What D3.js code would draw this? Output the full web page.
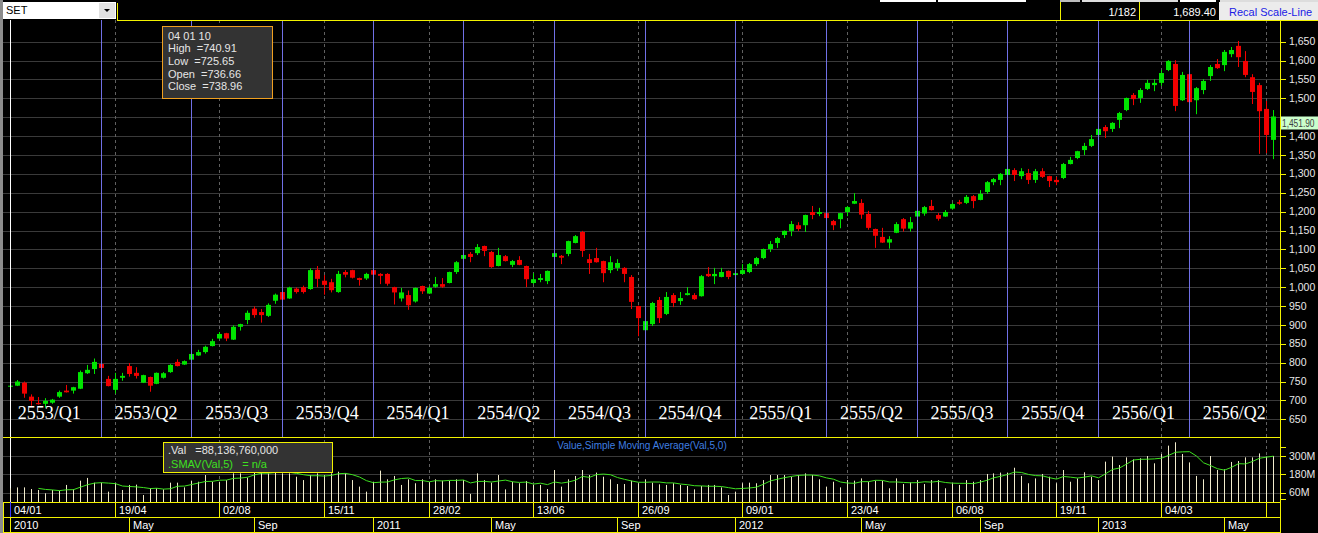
<!DOCTYPE html>
<html><head><meta charset="utf-8">
<script src="https://cdn.jsdelivr.net/npm/d3@7"></script>
<style>
html,body{margin:0;padding:0;background:#000;overflow:hidden}
svg{display:block}
text{font-family:"Liberation Sans",Arial,sans-serif;white-space:pre}
</style>
</head><body>
<svg id="c" width="1318" height="533"></svg>
<script>
// ---------- DATA (weekly SET index, 2010-01-04 .. 2013-06-24) ----------
const openP  = [736.66,739,747,710,693,691,694,710,726,726,731,772,783,796.5,757,728,760,791,773,747,762,744,760,775,802,795,808,819,828,844,864,878,861,895,913,943,934,924,964,987,970,996,1000,995,1046,1017,1013,987,1040,1045,1024,1023,1045,1035,1035,1000,970,979,962,1003,983,1001,1008,1011,1040,1075,1088,1090,1109,1093,1056,1082,1059,1072,1056,1011,1019,1016,1080,1083,1088,1117,1146,1074,1077,1069,1045,1051,1051,1027,950,886,902,966,929,979,963,979,979,976,1035,1029,1027,1043,1032,1035,1040,1061,1077,1101,1117,1138,1149,1164,1164,1199,1194,1196,1175,1180,1199,1221,1223,1194,1154,1133,1118,1144,1180,1155,1187,1195,1215,1191,1187,1208,1225,1223,1241,1231,1252,1278,1284,1297,1310,1294,1302,1284,1307,1294,1284,1289,1326,1342,1363,1374,1403,1424,1419,1443,1469,1509,1501,1525,1535,1541,1575,1591,1495,1564,1495,1522,1559,1591,1588,1617,1639,1599,1556,1535,1472,1390];
const highP  = [740.91,754,750,716,709,706,704,726,741,736,779,794,811,797,765,773,773,799,788,768,763,774,775,796,809,806,825,834,845,863,881,879,899,903,938,949,942,957,983,988,1001,999,1004,1050,1056,1032,1022,1043,1045,1046,1025,1038,1046,1037,1037,1001,998,991,999,1004,1003,1027,1024,1041,1069,1086,1093,1114,1110,1096,1104,1085,1072,1082,1057,1037,1035,1044,1091,1085,1123,1138,1149,1088,1104,1070,1082,1074,1053,1032,951,911,961,974,987,984,987,1000,984,1032,1053,1051,1051,1044,1038,1061,1064,1080,1102,1122,1133,1150,1175,1172,1192,1215,1210,1197,1178,1197,1215,1249,1233,1202,1155,1157,1135,1172,1183,1186,1203,1215,1231,1196,1204,1223,1231,1244,1244,1257,1281,1289,1302,1314,1315,1315,1313,1313,1315,1295,1292,1329,1345,1361,1382,1403,1420,1429,1437,1464,1502,1514,1527,1549,1551,1575,1601,1601,1570,1565,1530,1551,1588,1604,1628,1636,1652,1625,1564,1541,1493,1469];
const lowP   = [725.65,738,707,686,689,681,691,707,721,718,730,770,770,785,737,718,752,763,758,746,723,743,758,773,790,794,806,818,824,843,862,857,860,885,902,919,906,921,956,966,969,983,983,993,1000,980,986,985,1026,1023,1004,1019,1032,1008,1004,954,962,940,959,982,982,998,998,1010,1035,1074,1066,1085,1082,1051,1055,1068,1053,1058,1000,1008,1013,1008,1079,1061,1082,1116,1080,1035,1065,1013,1037,1043,1013,942,870,885,897,905,926,947,953,978,966,975,1027,1008,1026,1021,1031,1034,1037,1056,1074,1093,1104,1130,1135,1149,1146,1180,1188,1182,1151,1156,1188,1220,1181,1152,1104,1117,1102,1143,1147,1147,1186,1189,1203,1176,1186,1205,1218,1220,1209,1230,1247,1270,1270,1296,1281,1286,1273,1276,1289,1265,1270,1286,1325,1339,1350,1371,1402,1395,1411,1421,1466,1482,1488,1522,1519,1533,1572,1466,1493,1489,1458,1511,1546,1578,1572,1609,1583,1556,1485,1353,1355,1339];
const closeP = [738.96,750,718,699,690,699,702,722,721.5,735,775,781,802,786,738,757,765,770,765,767,739,773,772,794,791,804,823,828,842,857,876,864,895,902,932,926,926,953,980,967,999,987,987,1045,1022,1006,992,1035,1033,1025,1019,1035,1033,1030,1009,986,986,952,998,989,998,1008,1001,1040,1066,1085,1080,1106,1096,1053,1085,1069,1069,1059,1021,1021,1024,1043,1090,1078,1122,1135,1096,1064,1066,1037,1066,1064,1035,961,918,910,958,918,974,958,971,984,968,1029,1029,1035,1040,1027,1037,1045,1061,1077,1101,1114,1130,1149,1167,1154,1191,1191,1199,1183,1164,1196,1212,1228,1192,1157,1136,1118,1127,1167,1155,1172,1202,1212,1204,1181,1199,1220,1221,1239,1228,1247,1278,1286,1300,1313,1297,1307,1284,1307,1292,1281,1278,1326,1337,1360,1374,1392,1419,1413,1435,1461,1501,1498,1522,1541,1541,1567,1599,1480,1562,1490,1527,1546,1583,1580,1623,1628,1609,1562,1517,1466,1403,1451.90];
// traded value, in millions (of thousand baht)
const volume = [88.13676,94,94,83,77,55,77,72,110,81,138,156,125,125,66,121,77,110,112,44,88,88,81,125,125,94,138,131,175,131,131,142,186,186,158,208,197,186,208,186,186,164,142,175,186,175,186,197,186,142,99,66,131,204,147,169,110,147,121,147,129,147,138,138,147,142,51,186,142,125,175,81,131,121,136,110,110,83,208,99,147,169,208,175,191,164,147,116,116,138,121,147,125,114,110,121,110,103,81,103,110,110,94,44,66,121,125,121,142,175,175,175,164,175,186,175,147,99,131,94,142,138,153,131,138,138,88,153,116,127,142,116,142,142,88,121,110,142,131,142,182,186,191,191,223,169,121,153,182,164,121,208,131,153,193,164,142,263,296,241,291,278,285,300,252,313,368,390,313,258,169,147,300,208,212,261,267,291,291,317,296,300];

const priceTicks = [650,700,750,800,850,900,950,1000,1050,1100,1150,1200,1250,1300,1350,1400,1450,1500,1550,1600,1650];
const volTicks = [60,180,300];
const volTickLabels = ["60M","180M","300M"];
const volMinorTicks = [360,18];
const dateTickLabels = ["04/01","19/04","02/08","15/11","28/02","13/06","26/09","09/01","23/04","06/08","19/11","04/03"];
const monthTickLabels = ["2010","May","Sep","2011","May","Sep","2012","May","Sep","2013","May"];
const monthTickDates  = ["2010-01-04","2010-05-03","2010-09-06","2011-01-03","2011-05-02","2011-09-05","2012-01-02","2012-05-07","2012-09-03","2012-12-31","2013-05-06"];
const quarterLabels = ["2553/Q1","2553/Q2","2553/Q3","2553/Q4","2554/Q1","2554/Q2","2554/Q3","2554/Q4","2555/Q1","2555/Q2","2555/Q3","2555/Q4","2556/Q1","2556/Q2"];
const quarterStarts = ["2010-01-04","2010-04-05","2010-07-05","2010-10-04","2011-01-03","2011-04-04","2011-07-04","2011-10-03","2012-01-02","2012-04-02","2012-07-02","2012-10-01","2012-12-31","2013-04-01"];

// ---------- SETUP ----------
const weeks = d3.timeMonday.range(new Date(2010,0,4), new Date(2013,5,25));
const N = weeks.length;
const parse = d3.timeParse("%Y-%m-%d");
const idxOf = s => d3.bisectLeft(weeks, parse(s));

const svg = d3.select("#c");
const YEL = "#f2f200", GRID = "#3a3a3a", BLUE = "#7c7cff";
const GREEN = "#00e400", RED = "#f20000";
const TOP = 20, MAINB = 437, VOLB = 502, ROW1 = 517, ROW2 = 532, RX = 1280;

const x = d3.scaleLinear().domain([0, N-1]).range([10, 1272.5]);
const X = i => Math.round(x(i));
const y = d3.scaleLinear().domain([650,1650]).range([419.3,41.7]);
const yv = d3.scaleLinear().domain([0,300]).range([VOLB-0.3,456]);

svg.append("rect").attr("width",1318).attr("height",533).attr("fill","#000");

// horizontal grids
const g = svg.append("g");
g.selectAll(".hg").data(priceTicks).join("line")
  .attr("x1",3).attr("x2",RX).attr("y1",d=>Math.round(y(d))+0.5).attr("y2",d=>Math.round(y(d))+0.5)
  .attr("stroke",GRID);
g.selectAll(".vg").data(volTicks).join("line")
  .attr("x1",3).attr("x2",RX).attr("y1",d=>Math.round(yv(d))+0.5).attr("y2",d=>Math.round(yv(d))+0.5)
  .attr("stroke",GRID);

// dashed vertical grid at every 15th bar
const tickIdx = d3.range(0, N, 15);
g.selectAll(".dv").data(tickIdx.slice(1)).join("line")
  .attr("x1",i=>X(i)+0.5).attr("x2",i=>X(i)+0.5).attr("y1",TOP).attr("y2",VOLB)
  .attr("stroke","#606060").attr("stroke-dasharray","3,3");

// candles
const idx = d3.range(N);
const cg = svg.append("g");
cg.selectAll(".wick").data(idx).join("line")
  .attr("x1",i=>X(i)+0.5).attr("x2",i=>X(i)+0.5)
  .attr("y1",i=>y(highP[i])).attr("y2",i=>y(lowP[i]))
  .attr("stroke",i=>closeP[i]>=openP[i]?GREEN:RED);
cg.selectAll(".body").data(idx).join("rect")
  .attr("x",i=>X(i)-2).attr("width",5)
  .attr("y",i=>y(Math.max(openP[i],closeP[i])))
  .attr("height",i=>Math.max(1,Math.abs(y(openP[i])-y(closeP[i]))))
  .attr("fill",i=>closeP[i]>=openP[i]?GREEN:RED);

// quarter lines + labels
const qIdx = quarterStarts.map(idxOf);
svg.append("g").selectAll("line").data(qIdx.slice(1)).join("line")
  .attr("x1",i=>X(i)+0.5).attr("x2",i=>X(i)+0.5).attr("y1",TOP).attr("y2",MAINB)
  .attr("stroke",BLUE).attr("stroke-opacity",0.9);
svg.append("g").selectAll("text").data(quarterLabels).join("text")
  .attr("x",(d,k)=>{const a=x(qIdx[k]); const b = k+1<qIdx.length? x(qIdx[k+1]) : x(N); return (a+b)/2 - (k===0?6:0);})
  .attr("y",419).attr("text-anchor","middle")
  .style("font-family",'"Liberation Serif","Times New Roman",serif').style("font-size","18px")
  .attr("fill","#fff").text(d=>d);

// cursor line
svg.append("line").attr("x1",X(0)+0.5).attr("x2",X(0)+0.5).attr("y1",TOP).attr("y2",VOLB).attr("stroke","#fff");

// volume bars
svg.append("g").selectAll("line").data(idx).join("line")
  .attr("x1",i=>X(i)+0.5).attr("x2",i=>X(i)+0.5).attr("y1",VOLB).attr("y2",i=>yv(volume[i]))
  .attr("stroke","#f2eccc");
const sma = idx.map(i => i<4 ? null : d3.mean(volume.slice(i-4,i+1)));
svg.append("path").datum(idx.filter(i=>sma[i]!==null))
  .attr("d", d3.line().x(i=>X(i)+0.5).y(i=>yv(sma[i])))
  .attr("fill","none").attr("stroke","#3ee020").attr("stroke-width",1);

svg.append("text").attr("x",642).attr("y",449).attr("text-anchor","middle")
  .attr("fill","#3f7fe0").style("font-size","10px").text("Value,Simple Moving Average(Val,5,0)");

// panel borders
const hl = (x1,x2,yy)=>svg.append("line").attr("x1",x1).attr("x2",x2).attr("y1",yy+0.5).attr("y2",yy+0.5).attr("stroke",YEL);
const vl = (xx,y1,y2,c)=>svg.append("line").attr("x1",xx+0.5).attr("x2",xx+0.5).attr("y1",y1).attr("y2",y2).attr("stroke",c||YEL);
hl(117,1318,TOP); hl(3,RX,MAINB); hl(3,RX,VOLB); hl(3,RX,ROW1); hl(3,RX,ROW2);
vl(RX,TOP,533); vl(3,VOLB,ROW2+1); vl(117,3,TOP);

// bottom axis row 1
tickIdx.forEach(i=>vl(X(i),VOLB,ROW1));
svg.append("g").selectAll("text").data(dateTickLabels).join("text")
  .attr("x",(d,k)=>X(tickIdx[k])+4).attr("y",513.5).attr("fill","#fff").style("font-size","11px").text(d=>d);
vl(X(0),VOLB,ROW2,"#3a3aff");
// bottom axis row 2
const mIdx = monthTickDates.map(idxOf);
mIdx.forEach(i=>vl(X(i),ROW1,ROW2));
svg.append("g").selectAll("text").data(monthTickLabels).join("text")
  .attr("x",(d,k)=>X(mIdx[k])+4).attr("y",529).attr("fill","#fff").style("font-size","11px").text(d=>d);

// right axis
const fmt = d3.format(",");
const last = closeP[N-1];
const badgeTop = Math.round(y(last))-0.5, badgeH = 13;
const ra = svg.append("g");
ra.selectAll(".pt").data(priceTicks).join("line")
  .attr("x1",RX).attr("x2",RX+6).attr("y1",d=>Math.round(y(d))+0.5).attr("y2",d=>Math.round(y(d))+0.5).attr("stroke",YEL);
ra.selectAll(".pl").data(priceTicks.filter(d=>{const yy=y(d); return yy<badgeTop-5 || yy>badgeTop+badgeH+5;})).join("text")
  .attr("x",RX+9).attr("y",d=>y(d)+3.6).attr("fill","#e8e8e8").style("font-size","10.5px").text(d=>fmt(d));
ra.selectAll(".vt").data(volTicks.concat(volMinorTicks)).join("line")
  .attr("x1",RX).attr("x2",RX+6).attr("y1",d=>Math.round(yv(d))+0.5).attr("y2",d=>Math.round(yv(d))+0.5).attr("stroke",YEL);
ra.selectAll(".vl").data(volTicks).join("text")
  .attr("x",RX+9).attr("y",d=>yv(d)+3.6).attr("fill","#e8e8e8").style("font-size","10.5px").text((d,k)=>volTickLabels[k]);
// last price badge
ra.append("rect").attr("x",RX+1).attr("y",badgeTop).attr("width",37).attr("height",badgeH).attr("fill","#ccffcc");
ra.append("text").attr("transform",`translate(${RX+2},${badgeTop+10.5}) scale(0.76,1)`)
  .attr("fill","#404040").style("font-size","11px").text(d3.format(",.2f")(last));

// tooltip (price)
const f2 = d3.format(".2f");
const tt = svg.append("g");
tt.append("rect").attr("x",162.5).attr("y",26.5).attr("width",110).attr("height",72).attr("fill","#333").attr("stroke","#f0a020");
const ttLines = [d3.timeFormat("%d %m %y")(weeks[0]), "High  ="+f2(highP[0]), "Low  ="+f2(lowP[0]), "Open  ="+f2(openP[0]), "Close  ="+f2(closeP[0])];
tt.selectAll("text").data(ttLines).join("text").attr("x",168).attr("y",(d,k)=>39.5+k*12.7)
  .attr("fill","#e6e6e6").style("font-size","11px").text(d=>d);

// tooltip (value)
const tv = svg.append("g");
tv.append("rect").attr("x",163.5).attr("y",442.5).attr("width",169).attr("height",30).attr("fill","#333").attr("stroke",YEL);
tv.append("text").attr("x",168).attr("y",454).attr("fill","#e6e6e6").style("font-size","11px")
  .text(".Val   ="+fmt(Math.round(volume[0]*1e9)));
tv.append("text").attr("x",168).attr("y",468).attr("fill","#3ee020").style("font-size","11px")
  .text(".SMAV(Val,5)   = n/a");

// left strip
svg.append("rect").attr("x",0).attr("y",0).attr("width",3).attr("height",533).attr("fill","#8c8c8c");

// top bar
const tb = svg.append("g");
tb.append("rect").attr("x",3).attr("y",2).attr("width",113).attr("height",17).attr("fill","#fff");
tb.append("rect").attr("x",99).attr("y",3).attr("width",16).attr("height",15).attr("fill","#e1e1e1");
tb.append("path").attr("d","M104,9 L110,9 L107,12 Z").attr("fill","#000");
tb.append("text").attr("x",6).attr("y",14).attr("fill","#000").style("font-size","11px").text("SET");
[[880,936,"#fff"],[938,1026,"#fff"],[1060,1080,"#bbb"],[1082,1178,"#ddd"],[1180,1216,"#fff"],[1220,1318,"#ddd"]]
  .forEach(b=>tb.append("rect").attr("x",b[0]).attr("y",0).attr("width",b[1]-b[0]).attr("height",2).attr("fill",b[2]));
vl(1060,2,TOP); vl(1139,2,TOP);
tb.append("text").attr("x",1136).attr("y",15.5).attr("text-anchor","end").attr("fill","#fff").style("font-size","11px").text("1/182");
tb.append("text").attr("x",1216).attr("y",15.5).attr("text-anchor","end").attr("fill","#fff").style("font-size","11px").text("1,689.40");
tb.append("rect").attr("x",1219).attr("y",2).attr("width",99).attr("height",18).attr("fill","#ececec");
tb.append("text").attr("x",1229).attr("y",15.5).attr("fill","#1a1ae6").style("font-size","11px").text("Recal Scale-Line");
</script>
</body></html>
